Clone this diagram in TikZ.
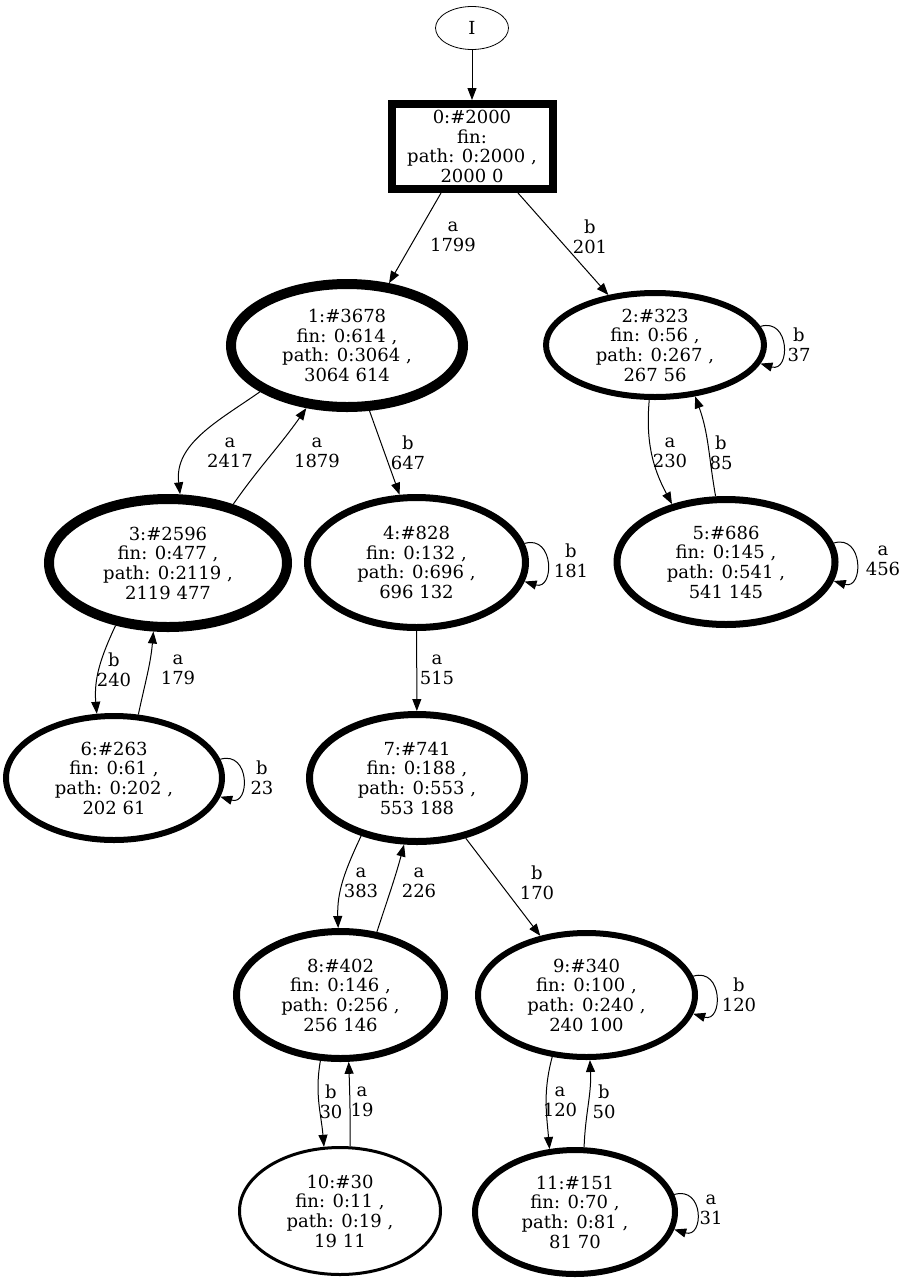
\documentclass[tikz,border=0pt]{standalone}
\usepackage{fontspec}
\setmainfont{DejaVu Serif}
\usetikzlibrary{shapes.geometric,arrows.meta}
\begin{document}
\begin{tikzpicture}[x=1pt,y=-1pt,
  every node/.style={font=\fontsize{18}{19.7}\selectfont, align=center, inner sep=0pt},
  st/.style={ellipse, draw, minimum width=#1},
  edge/.style={draw, line width=1pt, -{Triangle[length=12pt,width=9pt]}},
  lab/.style={font=\fontsize{18}{19.7}\selectfont}
]
\useasboundingbox (0,0) rectangle (909,1280);
% nodes
\node[ellipse, draw, line width=0.8pt, minimum width=73pt, minimum height=43pt] (nI) at (472,28) {I};
\node[draw, line width=8pt, minimum width=161pt, minimum height=85pt] (n0) at (472,146.5) {0:\#2000\\fin: \\path: 0:2000 ,\\2000 0};
\node[st=232pt, minimum height=123pt, line width=10pt] (n1) at (347,345.5) {1:\#3678\\fin: 0:614 ,\\path: 0:3064 ,\\3064 614};
\node[st=218pt, minimum height=104pt, line width=6pt] (n2) at (655,345) {2:\#323\\fin: 0:56 ,\\path: 0:267 ,\\267 56};
\node[st=238pt, minimum height=128pt, line width=10pt] (n3) at (168,563) {3:\#2596\\fin: 0:477 ,\\path: 0:2119 ,\\2119 477};
\node[st=218pt, minimum height=130pt, line width=7pt] (n4) at (416.5,562.5) {4:\#828\\fin: 0:132 ,\\path: 0:696 ,\\696 132};
\node[st=218pt, minimum height=125pt, line width=7pt] (n5) at (726,562) {5:\#686\\fin: 0:145 ,\\path: 0:541 ,\\541 145};
\node[st=216pt, minimum height=124pt, line width=6pt] (n6) at (114,778) {6:\#263\\fin: 0:61 ,\\path: 0:202 ,\\202 61};
\node[st=215pt, minimum height=127pt, line width=7pt] (n7) at (417,778) {7:\#741\\fin: 0:188 ,\\path: 0:553 ,\\553 188};
\node[st=208pt, minimum height=127pt, line width=7pt] (n8) at (340.5,995) {8:\#402\\fin: 0:146 ,\\path: 0:256 ,\\256 146};
\node[st=217pt, minimum height=124pt, line width=6pt] (n9) at (586.5,995) {9:\#340\\fin: 0:100 ,\\path: 0:240 ,\\240 100};
\node[st=201pt, minimum height=127pt, line width=3pt] (n10) at (340,1211) {10:\#30\\fin: 0:11 ,\\path: 0:19 ,\\19 11};
\node[st=200pt, minimum height=124pt, line width=6pt] (n11) at (575,1212) {11:\#151\\fin: 0:70 ,\\path: 0:81 ,\\81 70};
% edges
\draw[edge] (nI) -- (n0);
\draw[edge] ([xshift=-31pt]n0.south) -- (n1.56);
\node[lab] (l01) at (453,237) {a\\1799};
\draw[edge] ([xshift=46pt]n0.south) -- (n2.133);
\node[lab] (l02) at (590,237) {b\\201};
\draw[edge] (n2.10) .. controls +(30,-9) and +(30,9) .. (n2.-10);
\node[lab] (l2) at (799,345) {b\\37};
\draw[edge] (n1.208) to[out=215, in=97] (n3.80);
\node[lab] (l13) at (230,453) {a\\2417};
\draw[edge] (n3.42) to[out=55, in=235] (n1.237);
\node[lab] (l31) at (317,453) {a\\1879};
\draw[edge] (n1.289) -- (n4.104);
\node[lab] (l14) at (408,453) {b\\647};
\draw[edge] (n2.264) to[out=265, in=118] (n5.133);
\node[lab] (l25) at (670,453) {a\\230};
\draw[edge] (n5.99) to[out=100, in=290] (n2.308);
\node[lab] (l52) at (721,453) {b\\85};
\draw[edge] (n4.10) .. controls +(30,-9) and +(30,9) .. (n4.-10);
\node[lab] (l4) at (571,561) {b\\181};
\draw[edge] (n5.10) .. controls +(30,-9) and +(30,9) .. (n5.-10);
\node[lab] (l5) at (883,561) {a\\456};
\draw[edge] (n3.230) to[out=245, in=95] (n6.105);
\node[lab] (l36) at (114,670) {b\\240};
\draw[edge] (n6.69) to[out=78, in=265] (n3.258);
\node[lab] (l63) at (178,670) {a\\179};
\draw[edge] (n4) -- (n7);
\node[lab] (l47) at (437,670) {a\\515};
\draw[edge] (n6.10) .. controls +(30,-9) and +(30,9) .. (n6.-10);
\node[lab] (l6) at (262,778) {b\\23};
\draw[edge] (n7.226) to[out=245, in=92] (n8.92);
\node[lab] (l78) at (361,883) {a\\383};
\draw[edge] (n8.60) to[out=72, in=255] (n7.259);
\node[lab] (l87) at (419,883) {a\\226};
\draw[edge] (n7.309) -- (n9.128);
\node[lab] (l79) at (537,883) {b\\170};
\draw[edge] (n9.10) .. controls +(30,-9) and +(30,9) .. (n9.-10);
\node[lab] (l9) at (739,995) {b\\120};
\draw[edge] (n8.253) to[out=260, in=95] (n10.104);
\node[lab] (l810) at (331,1102) {b\\30};
\draw[edge] (n10.81) to[out=90, in=272] (n8.277);
\node[lab] (l108) at (362,1102) {a\\19};
\draw[edge] (n9.241) to[out=255, in=95] (n11.112);
\node[lab] (l911) at (560,1102) {a\\120};
\draw[edge] (n11.82) to[out=88, in=273] (n9.273);
\node[lab] (l119) at (604,1102) {b\\50};
\draw[edge] (n11.10) .. controls +(30,-9) and +(30,9) .. (n11.-10);
\node[lab] (l11) at (711,1210) {a\\31};
\end{tikzpicture}
\end{document}
